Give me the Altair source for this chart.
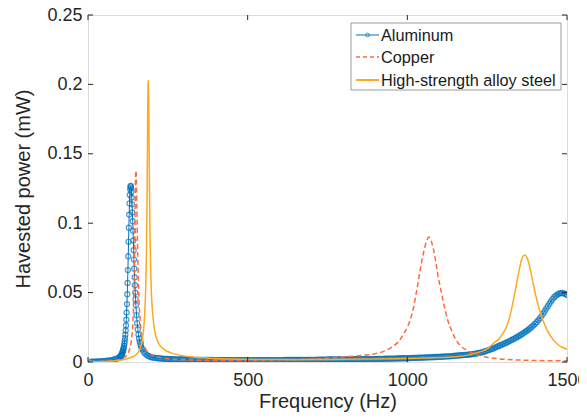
import altair as alt
import pandas as pd

# ---------------- data ----------------
series_names = ["Aluminum", "Copper", "High-strength alloy steel"]

al_freq = ([10, 15, 20, 25, 30, 35, 40, 45, 50, 55, 60, 65, 70, 75, 80, 85, 90, 95]
           + list(range(100, 151))
           + [152, 154, 156, 158, 160, 162, 164, 166, 168, 170, 175, 180, 185, 190, 195]
           + list(range(200, 1501, 5)))
al_power = [
    # 10 .. 95
    .0002, .0002, .0003, .0003, .0004, .0004, .0005, .0006, .0007, .0008, .0009, .0010,
    .0012, .0014, .0017, .0020, .0024, .0029,
    # 100 .. 150
    .0035, .0038, .0041, .0044, .0048, .0052, .0057, .0063, .0069, .0076,
    .0084, .0094, .0105, .0118, .0133, .0151, .0172, .0197, .0227, .0263,
    .0305, .0356, .0417, .0488, .0570, .0662, .0762, .0866, .0968, .1062,
    .1142, .1203, .1244, .1265, .1268, .1254, .1226, .1186, .1136, .1078,
    .1014, .0946, .0876, .0806, .0738, .0672, .0610, .0553, .0500, .0452,
    .0409,
    # 152 .. 195
    .0337, .0280, .0235, .0199, .0170, .0147, .0128, .0113, .0100, .0090,
    .0071, .0058, .0049, .0042, .0037,
    # 200 .. 245
    .0033, .0031, .0030, .0028, .0027, .0026, .0025, .0024, .0023, .0022,
    # 250 .. 295
    .0022, .0021, .0021, .0020, .0020, .0019, .0019, .0018, .0018, .0018,
    # 300 .. 345
    .0018, .0017, .0017, .0017, .0017, .0016, .0016, .0016, .0016, .0016,
    # 350 .. 395
    .0016, .0015, .0015, .0015, .0015, .0015, .0015, .0015, .0015, .0014,
    # 400 .. 445
    .0014, .0014, .0014, .0014, .0014, .0014, .0014, .0014, .0014, .0014,
    # 450 .. 495
    .0014, .0014, .0014, .0014, .0014, .0014, .0014, .0014, .0014, .0014,
    # 500 .. 545
    .0014, .0014, .0014, .0014, .0014, .0014, .0014, .0014, .0014, .0014,
    # 550 .. 595
    .0014, .0014, .0014, .0014, .0014, .0014, .0014, .0014, .0014, .0014,
    # 600 .. 645
    .0014, .0014, .0014, .0015, .0015, .0015, .0015, .0015, .0015, .0015,
    # 650 .. 695
    .0015, .0015, .0015, .0015, .0015, .0015, .0015, .0016, .0016, .0016,
    # 700 .. 745
    .0016, .0016, .0016, .0016, .0017, .0017, .0017, .0017, .0017, .0017,
    # 750 .. 795
    .0018, .0018, .0018, .0018, .0018, .0018, .0018, .0018, .0018, .0018,
    # 800 .. 845
    .0018, .0019, .0019, .0019, .0019, .0019, .0020, .0020, .0020, .0020,
    # 850 .. 895
    .0020, .0020, .0020, .0021, .0021, .0021, .0021, .0021, .0021, .0021,
    # 900 .. 945
    .0022, .0022, .0022, .0023, .0023, .0023, .0024, .0024, .0024, .0024,
    # 950 .. 995
    .0025, .0025, .0025, .0026, .0026, .0026, .0027, .0027, .0027, .0027,
    # 1000 .. 1045
    .0027, .0028, .0028, .0029, .0029, .0030, .0030, .0031, .0031, .0032,
    # 1050 .. 1095
    .0032, .0033, .0033, .0034, .0034, .0035, .0035, .0036, .0036, .0037,
    # 1100 .. 1145
    .0037, .0038, .0038, .0039, .0040, .0041, .0041, .0042, .0043, .0044,
    # 1150 .. 1195
    .0045, .0046, .0047, .0048, .0049, .0050, .0051, .0052, .0053, .0054,
    # 1200 .. 1245
    .0055, .0057, .0059, .0061, .0063, .0066, .0068, .0071, .0074, .0078,
    # 1250 .. 1295
    .0082, .0086, .0090, .0094, .0099, .0104, .0109, .0114, .0119, .0124,
    # 1300 .. 1345
    .0129, .0134, .0139, .0145, .0151, .0157, .0163, .0169, .0175, .0181,
    # 1350 .. 1395
    .0188, .0195, .0202, .0210, .0218, .0226, .0235, .0244, .0254, .0264,
    # 1400 .. 1445
    .0275, .0287, .0300, .0315, .0331, .0348, .0366, .0384, .0402, .0420,
    # 1450 .. 1495
    .0437, .0453, .0467, .0478, .0487, .0493, .0496, .0497, .0495, .0490,
    # 1500
    .0482,
]

cu_freq = [10, 50, 80, 100, 110, 120, 125, 130, 135, 138, 140, 142, 144, 145, 146, 147,
           148, 149, 150, 151, 152, 153, 154, 155, 156, 158, 160, 163, 166, 170, 175, 180,
           190, 200, 220, 250, 300, 400, 500, 600, 700, 768, 800, 850, 872, 900, 924, 950,
           977, 990, 1000, 1010, 1020, 1029, 1040, 1050, 1060, 1068, 1075, 1081, 1090,
           1097, 1105, 1112, 1120, 1128, 1138, 1149, 1165, 1186, 1210, 1248, 1290, 1350,
           1400, 1450, 1500]
cu_power = [.0002, .0005, .0010, .0018, .0027, .0045, .0062, .0090, .0140, .0200, .0260,
            .0360, .0520, .0640, .0800, .1000, .1200, .1330, .1380, .1350, .1250, .1120,
            .0980, .0850, .0740, .0560, .0430, .0310, .0230, .0170, .0120, .0095, .0068,
            .0052, .0035, .0024, .0016, .0012, .0013, .0016, .0022, .0030, .0036, .0045,
            .0050, .0060, .0075, .0105, .0160, .0210, .0250, .0310, .0400, .0510, .0660,
            .0780, .0870, .0900, .0870, .0820, .0710, .0610, .0520, .0440, .0360, .0290,
            .0230, .0174, .0120, .0085, .0060, .0035, .0022, .0014, .0011, .0009, .0008]

st_freq = [10, 50, 80, 100, 120, 140, 150, 160, 165, 170, 173, 176, 178, 180, 182, 183,
           184, 185, 186, 187, 188, 189, 190, 191, 192, 193, 194, 196, 198, 200, 205, 210,
           218, 225, 240, 260, 280, 320, 380, 450, 550, 650, 750, 850, 950, 1050, 1100,
           1150, 1200, 1230, 1250, 1270, 1290, 1300, 1310, 1320, 1330, 1340, 1350, 1358,
           1367, 1375, 1383, 1390, 1400, 1410, 1420, 1430, 1440, 1455, 1470, 1485, 1500]
st_power = [.0002, .0004, .0008, .0012, .0022, .0038, .0050, .0080, .0110, .0160, .0210,
            .0290, .0370, .0480, .0650, .0780, .0950, .1180, .1480, .1800, .2000, .2030,
            .1900, .1650, .1380, .1150, .0950, .0700, .0530, .0430, .0290, .0210, .0150,
            .0120, .0088, .0066, .0053, .0038, .0027, .0021, .0018, .0017, .0018, .0021,
            .0024, .0029, .0032, .0037, .0055, .0075, .0095, .0135, .0175, .0210, .0250,
            .0320, .0420, .0540, .0660, .0740, .0770, .0750, .0690, .0610, .0500, .0410,
            .0330, .0270, .0220, .0165, .0128, .0106, .0092]

x_ticks = [0, 500, 1000, 1500]
y_ticks = [0, 0.05, 0.1, 0.15, 0.2, 0.25]

# ---------------- styling ----------------
W, H = 479, 347
FONT = "Liberation Sans"
TXT = "#262626"
C_AL, C_CU, C_ST = "#0072BD", "#FF6A3A", "#FFA820"

al_df = pd.DataFrame({"f": al_freq, "p": al_power})
cu_df = pd.DataFrame({"f": cu_freq, "p": cu_power})
st_df = pd.DataFrame({"f": st_freq, "p": st_power})

xs = alt.Scale(domain=[0, 1500], nice=False, zero=False)
ys = alt.Scale(domain=[0, 0.25], nice=False, zero=False)

xax = alt.Axis(values=x_ticks, format="d", title="Frequency (Hz)", ticks=False, domain=False,
               grid=False, labelFlush=False, labelOverlap=False, labelBound=False,
               labelFontSize=18, labelColor=TXT, labelPadding=9, labelFont=FONT,
               titleFontSize=20, titleColor=TXT, titleFont=FONT, titleFontWeight="normal",
               titlePadding=2)
yax = alt.Axis(values=y_ticks, format="~g", title="Havested power (mW)", ticks=False,
               domain=False, grid=False, labelFlush=False, labelOverlap=False,
               labelBound=False, labelFontSize=18, labelColor=TXT, labelPadding=6,
               labelFont=FONT, titleFontSize=20, titleColor=TXT, titleFont=FONT,
               titleFontWeight="normal", titlePadding=13)

X = alt.X("f:Q", scale=xs, axis=xax)
Y = alt.Y("p:Q", scale=ys, axis=yax)

al_line = alt.Chart(al_df).mark_line(color=C_AL, strokeWidth=1, clip=True).encode(x=X, y=Y)
al_pts = alt.Chart(al_df).mark_point(color=C_AL, filled=False, size=26, strokeWidth=1.2,
                                     clip=True).encode(x=X, y=Y)
cu_line = alt.Chart(cu_df).mark_line(color=C_CU, strokeWidth=1.5, strokeDash=[5, 3],
                                     interpolate="monotone", clip=True).encode(x=X, y=Y)
st_line = alt.Chart(st_df).mark_line(color=C_ST, strokeWidth=1.5, interpolate="monotone",
                                     clip=True).encode(x=X, y=Y)

# inward ticks (box on)
xt = pd.DataFrame({"f": x_ticks})
yt = pd.DataFrame({"p": y_ticks})
tick_b = alt.Chart(xt).mark_rule(color=TXT, strokeWidth=1).encode(
    x=X, y=alt.value(H), y2=alt.value(H - 5))
tick_t = alt.Chart(xt).mark_rule(color=TXT, strokeWidth=1).encode(
    x=X, y=alt.value(0), y2=alt.value(5))
tick_l = alt.Chart(yt).mark_rule(color=TXT, strokeWidth=1).encode(
    y=Y, x=alt.value(0), x2=alt.value(5))
tick_r = alt.Chart(yt).mark_rule(color=TXT, strokeWidth=1).encode(
    y=Y, x=alt.value(W), x2=alt.value(W - 5))

# legend (manual, MATLAB style)
one = pd.DataFrame({"k": [0]})
LX0, LX1, LY0, LY1 = 263, 473, 8, 75
rows_y = [20, 42, 65]
leg_box = alt.Chart(one).mark_rect(fill="white", stroke="#9a9a9a", strokeWidth=1).encode(
    x=alt.value(LX0), x2=alt.value(LX1), y=alt.value(LY0), y2=alt.value(LY1))
leg_layers = [leg_box]
styles = [
    dict(color=C_AL, strokeWidth=1),
    dict(color=C_CU, strokeWidth=1.5, strokeDash=[4, 3]),
    dict(color=C_ST, strokeWidth=2),
]
for name, ry, st in zip(series_names, rows_y, styles):
    d = pd.DataFrame({"label": [name]})
    leg_layers.append(alt.Chart(d).mark_rule(**st).encode(
        x=alt.value(268), x2=alt.value(291), y=alt.value(ry)))
    leg_layers.append(alt.Chart(d).mark_text(align="left", baseline="middle", font=FONT,
                                             fontSize=16.3, color="#1a1a1a").encode(
        x=alt.value(293), y=alt.value(ry + 1), text="label:N"))
leg_layers.append(alt.Chart(one).mark_point(color=C_AL, filled=False, size=14,
                                            strokeWidth=1).encode(
    x=alt.value(279.5), y=alt.value(rows_y[0])))

chart = alt.layer(
    al_line, al_pts, cu_line, st_line, tick_b, tick_t, tick_l, tick_r, *leg_layers
).properties(
    width=W, height=H,
    autosize=alt.AutoSizeParams(type="none"),
    padding={"left": 80, "top": 7, "right": 12, "bottom": 50},
).configure_view(stroke=TXT, strokeWidth=1).configure(font=FONT)

chart.save("out.html", embed_options={"renderer": "svg", "actions": False})
